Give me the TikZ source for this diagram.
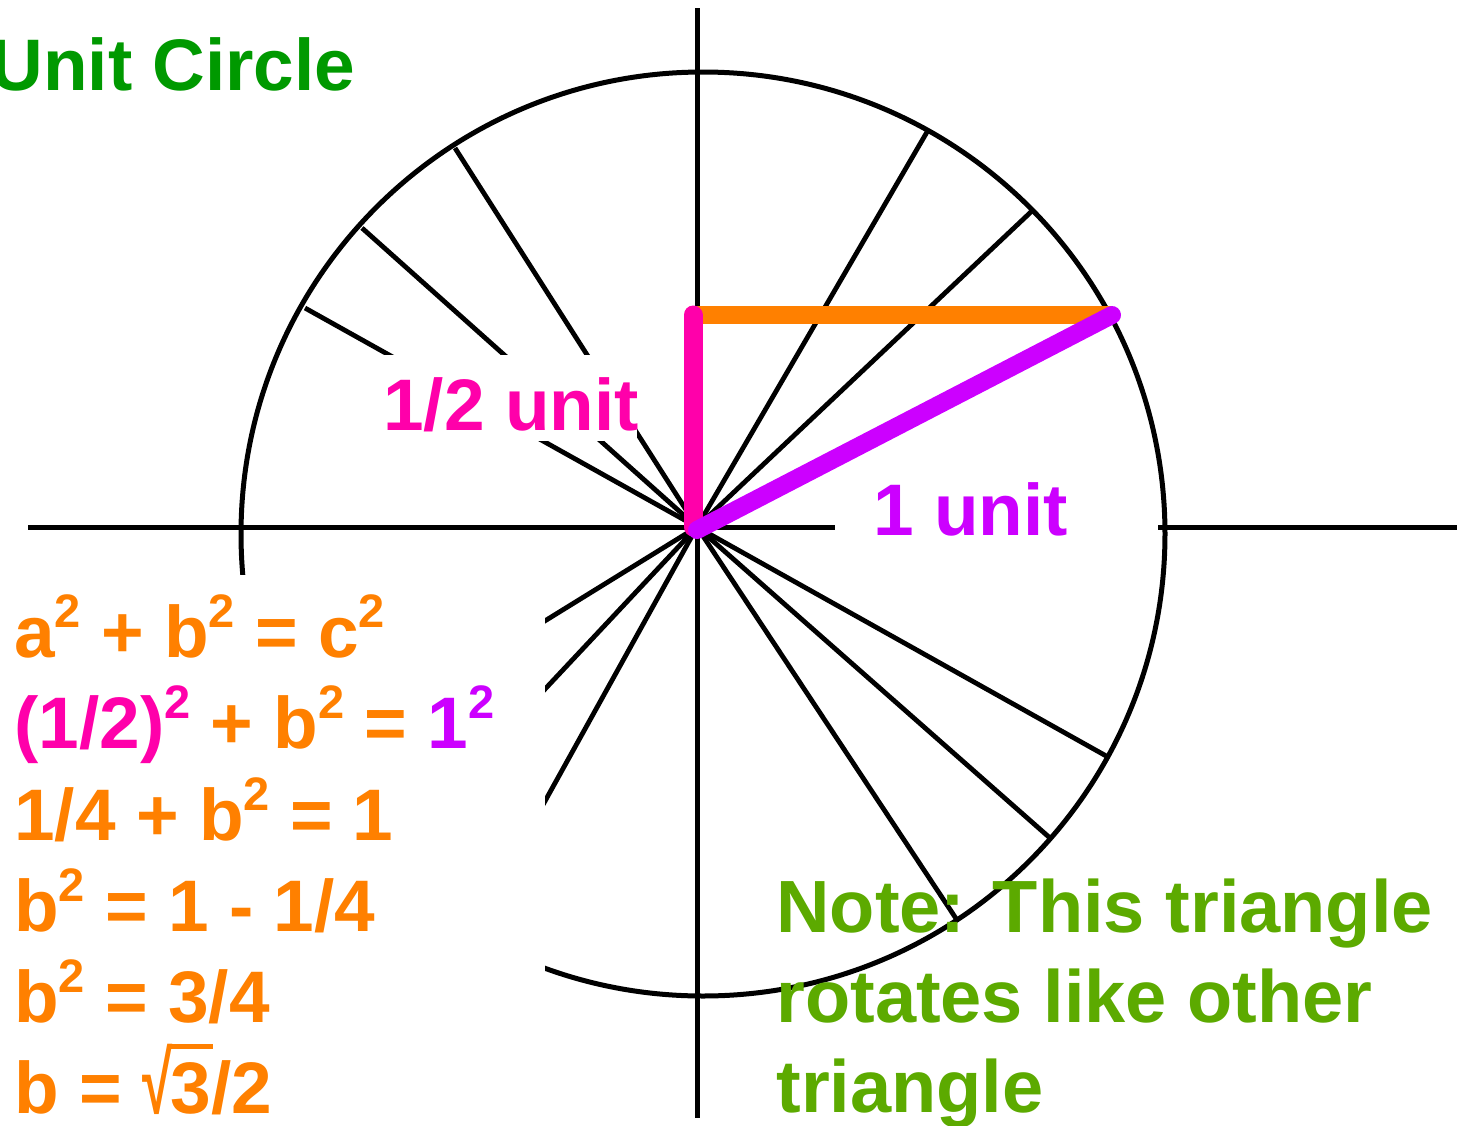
\documentclass[tikz,border=0pt]{standalone}
\usepackage{fontspec}
\setmainfont{Liberation Sans}
\usepackage{xcolor}
\usepackage{graphicx}
\definecolor{titlegreen}{RGB}{0,153,0}
\definecolor{notegreen}{RGB}{92,170,0}
\definecolor{eqorange}{RGB}{255,128,0}
\definecolor{halfmag}{RGB}{255,0,170}
\definecolor{onepur}{RGB}{204,0,255}
\newcommand\mysup[1]{\raisebox{0.41em}{\fontsize{23.5}{23.5}\selectfont #1}}
\newcommand\myroot[1]{\setbox0=\hbox{\scalebox{0.75}[1.2]{√}}\copy0\kern-0.02em\rlap{\rule[\dimexpr\ht0-0.07em\relax]{0.58em}{0.07em}}#1}
\tikzset{
  axisline/.style={line width=2.5pt, black},
  spoke/.style={line width=2.4pt, black},
  bigtext/.style={font=\fontsize{36.5}{36.5}\selectfont\bfseries, inner sep=0pt, anchor=base west},
  cover/.style={fill=white, draw=none},
}
\begin{document}
\begin{tikzpicture}[x=0.5pt, y=-0.5pt]
\useasboundingbox (0,0) rectangle (1457,1125);
\fill[white] (0,0) rectangle (1457,1125);
% axes
\coordinate (O) at (697,527);
\coordinate (xl) at (28,527);
\coordinate (xr) at (1457,527);
\coordinate (yt) at (697,8);
\coordinate (yb) at (697,1118);
\draw[axisline] (xl) -- (xr);
\draw[axisline] (yt) -- (yb);
% circle
\draw[axisline] (703,534) circle [radius=462];
% spokes
\foreach \p in {(927,132),(1033,210),(455,148),(362,228),(305,308),(1108,757),(1050,838),(957,920),(305,769),(381,864),(473,931)}
  \draw[spoke] (O) -- \p;
% white covers
\fill[cover] (375,355) rectangle (637,441);
\fill[cover] (835,490) rectangle (1158,562);
\fill[cover] (0,575) rectangle (545,1125);
% triangle
\coordinate (P) at (1112,315);
\coordinate (Q) at (693,315);
\coordinate (R) at (693,527);
\draw[line width=9pt, eqorange] (Q) -- (P);
\draw[line width=9.5pt, halfmag, line cap=round] (R) -- (Q);
\draw[line width=9pt, onepur, line cap=round] (697,530) -- (P);
% labels
\node[bigtext, text=titlegreen] (title) at (-10,90) {Unit Circle};
\node[bigtext, text=halfmag] (half) at (383,430) {1/2 unit};
\node[bigtext, text=onepur] (one) at (873,535) {1 unit};
\begin{scope}[every node/.style={bigtext, text=eqorange}]
\node (e1) at (14,657) {a\mysup{2} + b\mysup{2} = c\mysup{2}};
\node (e2) at (14,748) {{\color{halfmag}(1/2)\mysup{2}} + b\mysup{2} = {\color{onepur}1\mysup{2}}};
\node (e3) at (14,840) {1/4 + b\mysup{2} = 1};
\node (e4) at (14,931) {b\mysup{2} = 1 - 1/4};
\node (e5) at (14,1022) {b\mysup{2} = 3/4};
\node (e6) at (14,1113) {b = \myroot{3}/2};
\end{scope}
\begin{scope}[every node/.style={bigtext, font=\fontsize{37}{37}\selectfont\bfseries, text=notegreen}]
\node (n1) at (776,932) {Note: This triangle};
\node (n2) at (776,1022) {rotates like other};
\node (n3) at (776,1112) {triangle};
\end{scope}
\end{tikzpicture}
\end{document}
